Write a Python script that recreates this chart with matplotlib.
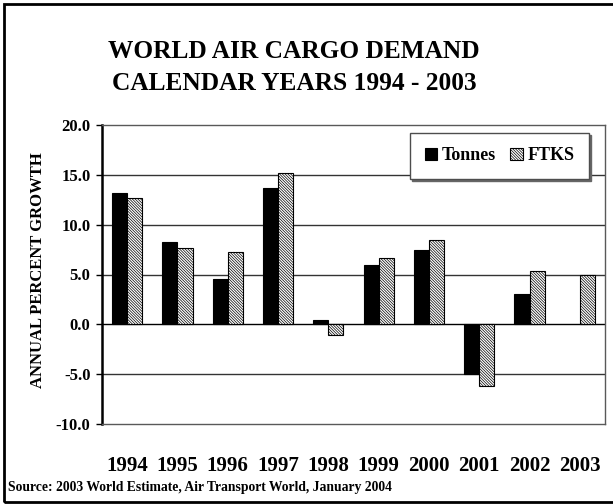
import numpy as np
import matplotlib
matplotlib.use('Agg')
import matplotlib.pyplot as plt
from matplotlib.patches import Rectangle

## data
years  = ['1994', '1995', '1996', '1997', '1998', '1999', '2000', '2001', '2002', '2003']
tonnes = [13.2, 8.3, 4.5, 13.7, 0.4, 6.0, 7.5, -5.0, 3.0, np.nan]
ftks   = [12.7, 7.7, 7.3, 15.2, -1.1, 6.7, 8.5, -6.2, 5.4, 5.0]
yticks = [-10, -5, 0, 5, 10, 15, 20]

plt.rcParams['font.family'] = ['Liberation Serif', 'DejaVu Serif']
plt.rcParams['font.weight'] = 'bold'
plt.rcParams['hatch.linewidth'] = 0.5

W, H = 613, 504
fig = plt.figure(figsize=(W/100, H/100), dpi=100, facecolor='w')
ax = fig.add_axes([102/W, 1 - 424/H, 503/W, 299/H])

x = np.arange(len(years))
bw = 0.3
ax.bar(x - bw/2, tonnes, bw, color='k', edgecolor='k', linewidth=0.8, label='Tonnes', zorder=3)
ax.bar(x + bw/2, ftks, bw, color='w', edgecolor='k', linewidth=0.8, hatch='\\'*12,
       label='FTKS', zorder=3)

ax.set_xlim(-0.5, len(years) - 0.5)
ax.set_ylim(-10, 20)
ax.set_yticks(yticks)
ax.set_yticklabels(['%.1f' % v for v in yticks])
ax.set_xticks(x)
ax.set_xticklabels(years)

ax.tick_params(axis='y', direction='out', length=4.3, width=1, pad=4, labelsize=12)
ax.tick_params(axis='x', length=0, pad=23, labelsize=15)
for lab in ax.get_xticklabels() + ax.get_yticklabels():
    lab.set_fontweight('bold')

## grid lines
for v in yticks[1:-1]:
    ax.axhline(v, color='0.2' if v != 0 else 'k', lw=1, zorder=1)

ax.spines['left'].set_linewidth(1.8)
ax.spines['left'].set_color('k')
for s in ['top', 'right', 'bottom']:
    ax.spines[s].set_color('0.35')
    ax.spines[s].set_linewidth(1)

ax.set_ylabel('ANNUAL PERCENT GROWTH', fontsize=12, fontweight='bold')
ax.yaxis.set_label_coords(-(102 - 46)/503, (424 - 270)/299)

leg = ax.legend(loc='upper right', bbox_to_anchor=((589 - 102)/503, (424 - 133)/299),
                ncol=2, fontsize=13, frameon=True, fancybox=False,
                handlelength=0.7, handleheight=0.7, handletextpad=0.25,
                columnspacing=0.8, borderpad=0.8, borderaxespad=0,
                shadow={'ox': 1.2, 'oy': -1.2, 'color': '0.4', 'alpha': 1})
leg.get_frame().set_edgecolor('0.3')
leg.get_frame().set_linewidth(1)
leg.get_frame().set_alpha(1)
for t in leg.get_texts():
    t.set_fontweight('bold')

fig.text(294/W, 1 - 40/H, 'WORLD AIR CARGO DEMAND\nCALENDAR YEARS 1994 - 2003',
         ha='center', va='top', fontsize=18.3, fontweight='bold', linespacing=1.5)

fig.text(8/W, 1 - 488/H, 'Source: 2003 World Estimate, Air Transport World, January 2004',
         ha='left', va='center', fontsize=9.8, fontweight='bold')

## outer frame
fig.patches.append(Rectangle((4/W, 1 - 502/H), 620/W, 498/H, transform=fig.transFigure,
                             fill=False, edgecolor='k', linewidth=2))

plt.savefig('out.png', dpi=100)
plt.close()
